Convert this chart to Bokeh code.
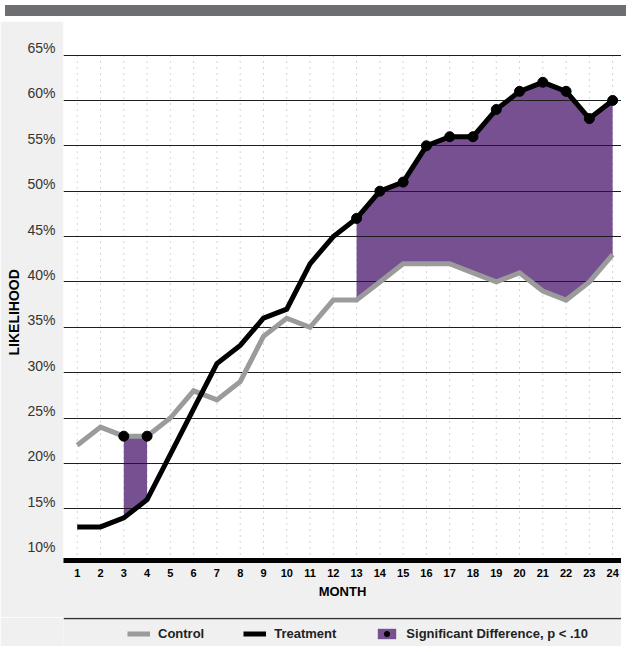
from bokeh.plotting import figure
from bokeh.models import (Range1d, FixedTicker, PrintfTickFormatter,
                          Legend, LegendItem, Div, Span, Title)
from bokeh.layouts import column
from bokeh.embed import file_html
from bokeh.resources import INLINE

# ---- data ----
months = list(range(1, 25))
control = [22, 24, 23, 23, 25, 28, 27, 29, 34, 36, 35, 38,
           38, 40, 42, 42, 42, 41, 40, 41, 39, 38, 40, 43]
treatment = [13, 13, 14, 16, 21, 26, 31, 33, 36, 37, 42, 45,
             47, 50, 51, 55, 56, 56, 59, 61, 62, 61, 58, 60]
significant = [3, 4, 13, 14, 15, 16, 17, 18, 19, 20, 21, 22, 23, 24]
y_ticks = [10, 15, 20, 25, 30, 35, 40, 45, 50, 55, 60, 65]
grid_ticks = [15, 20, 25, 30, 35, 40, 45, 50, 55, 60, 65]

FONT = "Liberation Sans"
PURPLE = "#765090"
GRAY = "#9b9b9b"
BG = "#f0f0f0"

W = 621
BAND = 11
MAIN_H = 596
LEG_H = 29
LEFT = 63

y_lo, y_hi = 9.3, 68.7
LABEL_LIFT = 0.77  # tick labels sit just above their grid lines

p = figure(width=W, height=MAIN_H,
           x_range=Range1d(0.41, 24.38), y_range=Range1d(y_lo, y_hi),
           output_backend="svg", toolbar_location=None,
           min_border_left=LEFT, min_border_right=0, min_border_top=0, min_border_bottom=57,
           background_fill_color="white", border_fill_color=BG,
           outline_line_color=None)
p.extra_y_ranges = {"lbl": Range1d(y_lo - LABEL_LIFT, y_hi - LABEL_LIFT)}

# vertical dotted guides per month (below the fill)
p.segment(x0=months, y0=[y_lo] * len(months), x1=months, y1=[max(grid_ticks)] * len(months),
          line_color="#a8a8a8", line_width=1, line_dash="1 5", level="image")

# significant-difference fills (runs of consecutive months)
runs = []
for m in significant:
    if runs and m == runs[-1][-1] + 1:
        runs[-1].append(m)
    else:
        runs.append([m])
fill_data = []
for run in runs:
    idx = [months.index(m) for m in run]
    lo = [min(control[i], treatment[i]) for i in idx]
    hi = [max(control[i], treatment[i]) for i in idx]
    fill_data.append((run, lo, hi))
    p.varea(x=run, y1=lo, y2=hi, fill_color=PURPLE, level="image")

p.line(months, control, line_color=GRAY, line_width=5, line_join="miter")
p.line(months, treatment, line_color="black", line_width=5, line_join="miter")
sig_y = [max(control[months.index(m)], treatment[months.index(m)]) for m in significant]
p.scatter(significant, sig_y, size=10, color="black")

# grids
p.xgrid.visible = False
p.ygrid.ticker = FixedTicker(ticks=grid_ticks)
p.ygrid.grid_line_color = "#1e1e1e"
p.ygrid.grid_line_width = 1.1

# y axis (labels only)
ya = p.yaxis[0]
ya.y_range_name = "lbl"
ya.ticker = FixedTicker(ticks=y_ticks)
ya.formatter = PrintfTickFormatter(format="%d%%")
ya.axis_line_color = None
ya.major_tick_line_color = None
ya.minor_tick_line_color = None
ya.major_tick_out = 0
ya.major_tick_in = 0
ya.major_label_standoff = 8
ya.major_label_text_font = FONT
ya.major_label_text_font_size = "14px"
ya.major_label_text_color = "#333333"

p.add_layout(Title(text="LIKELIHOOD", align="left", offset=205, standoff=6,
                   text_font=FONT, text_font_size="14px", text_font_style="bold",
                   text_color="black"), "left")

# x axis
xa = p.xaxis[0]
xa.ticker = FixedTicker(ticks=months)
xa.axis_line_color = "black"
xa.axis_line_width = 5
xa.major_tick_line_color = None
xa.minor_tick_line_color = None
xa.major_tick_out = 0
xa.major_tick_in = 0
xa.major_label_standoff = 8
xa.major_label_text_font = FONT
xa.major_label_text_font_size = "11px"
xa.major_label_text_font_style = "bold"
xa.major_label_text_color = "black"
xa.axis_label = "MONTH"
xa.axis_label_text_font = FONT
xa.axis_label_text_font_size = "13px"
xa.axis_label_text_font_style = "bold"
xa.axis_label_text_color = "black"
xa.axis_label_standoff = 4

# ---- legend strip with separator line ----
q = figure(width=W, height=LEG_H, x_range=Range1d(0, 1), y_range=Range1d(0, 1.04),
           output_backend="svg", toolbar_location=None,
           min_border_left=LEFT, min_border_right=0, min_border_top=0, min_border_bottom=0,
           background_fill_color=BG, border_fill_color=BG, outline_line_color=None)
q.axis.visible = False
q.grid.visible = False
q.add_layout(Span(location=1, dimension="width", line_color="#333333", line_width=1.5))
# legend proxies (same data, lying outside this strip's ranges so only the key shows)
l_ctrl = q.line(months, control, line_color=GRAY, line_width=5)
l_treat = q.line(months, treatment, line_color="black", line_width=5)
run0, lo0, hi0 = fill_data[0]
l_fill = q.varea(x=run0, y1=lo0, y2=hi0, fill_color=PURPLE)
l_dot = q.scatter(significant, sig_y, size=10, color="black")

legend = Legend(items=[
    LegendItem(label="Control", renderers=[l_ctrl]),
    LegendItem(label="Treatment", renderers=[l_treat]),
    LegendItem(label="Significant Difference, p < .10", renderers=[l_fill, l_dot]),
], orientation="horizontal", location=(64, 5),
    glyph_width=23, glyph_height=13, label_height=16, label_standoff=8, spacing=39,
    padding=5, margin=0, border_line_color=None, background_fill_alpha=0,
    label_text_font=FONT, label_text_font_size="13px", label_text_font_style="bold",
    label_text_color="#222222")
q.add_layout(legend)

band = Div(width=W, height=BAND, styles={"background-color": "#6d6e71"})
layout = column(band, p, q, spacing=0)

open("out.html", "w").write(file_html(layout, INLINE))
